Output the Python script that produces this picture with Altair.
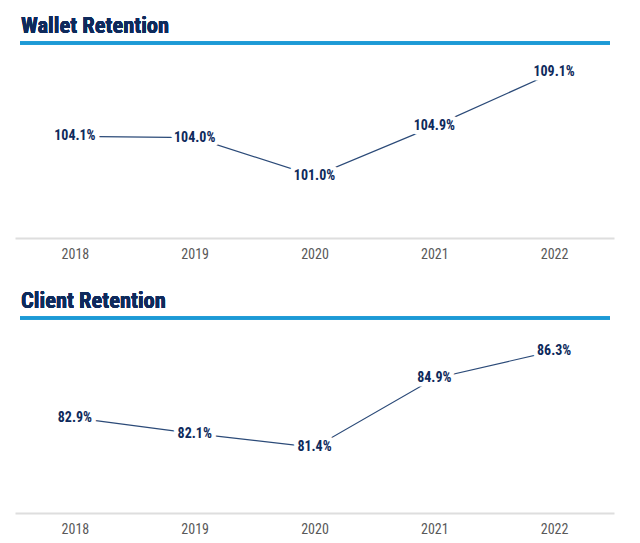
import altair as alt
import pandas as pd

years = ["2018", "2019", "2020", "2021", "2022"]
wallet = [104.1, 104.0, 101.0, 104.9, 109.1]
client = [82.9, 82.1, 81.4, 84.9, 86.3]

FONT = "Roboto Condensed, Liberation Sans Narrow, Arial Narrow, Liberation Sans, Arial"
NAVY = "#0e2a5c"
LINE = "#2b4a78"
BLUE = "#1c9ad6"
W, H = 599, 195


def panel(title, values, domain):
    df = pd.DataFrame({"year": years, "value": values})
    df["label"] = [f"{v:.1f}%" for v in values]
    x = alt.X("year:N", sort=years,
              scale=alt.Scale(paddingInner=0, paddingOuter=0),
              axis=alt.Axis(title=None, labelAngle=0, ticks=False, grid=False,
                            domainColor="#dedede", domainWidth=2,
                            labelColor="#595959", labelFontSize=14, labelFont=FONT,
                            labelPadding=9))
    y = alt.Y("value:Q", scale=alt.Scale(domain=domain, nice=False, zero=False),
              axis=None)
    base = alt.Chart(df).encode(x=x, y=y)
    line = base.mark_line(color=LINE, strokeWidth=1.2)
    halo = base.mark_text(font=FONT, fontSize=14, fontWeight="bold", color="white",
                          stroke="white", strokeWidth=9, strokeJoin="round").encode(text="label:N")
    txt = base.mark_text(font=FONT, fontSize=14, fontWeight="bold", color=NAVY).encode(text="label:N")
    rule = alt.Chart(df).mark_rule(color=BLUE, strokeWidth=3).encode(
        x=alt.value(5), x2=alt.value(W - 4), y=alt.value(0))
    ttl = alt.Chart(df).mark_text(font=FONT, fontSize=22.5, fontWeight="bold", color=NAVY,
                                  align="left", baseline="alphabetic").encode(
        x=alt.value(6), y=alt.value(-10), text=alt.value(title))
    return alt.layer(line, halo, txt, rule, ttl).properties(width=W, height=H)


top = panel("Wallet Retention", wallet, [96.16, 111.39])
bot = panel("Client Retention", client, [78.07, 87.97])

chart = alt.vconcat(top, bot, spacing=29).properties(
    padding={"left": 7, "top": 7, "right": 5, "bottom": 3}
).configure(background="white").configure_view(stroke="transparent", strokeWidth=0)

chart.save("out.html", embed_options={"renderer": "svg", "actions": False})
